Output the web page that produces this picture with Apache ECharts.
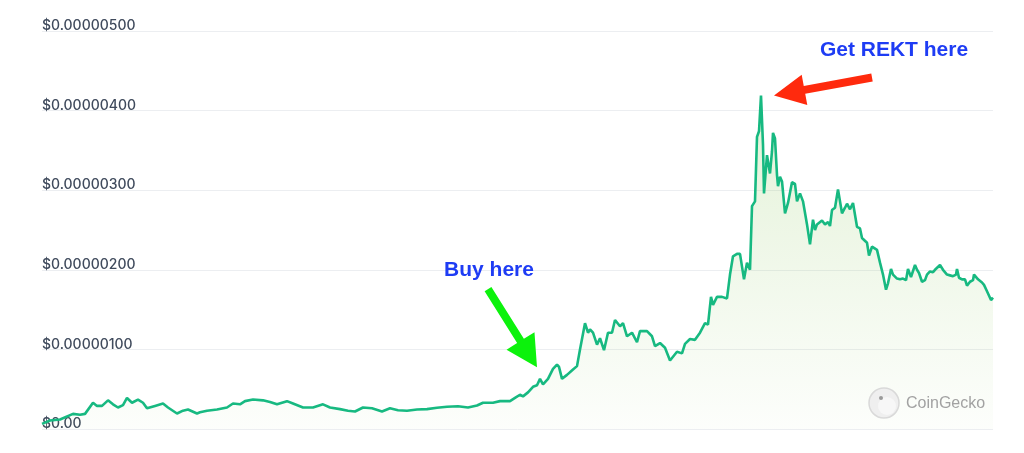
<!DOCTYPE html>
<html>
<head>
<meta charset="utf-8">
<script src="https://cdn.jsdelivr.net/npm/echarts@6/dist/echarts.min.js"></script>
<style>
  html, body { margin: 0; padding: 0; background: #ffffff; }
  #chart { width: 1024px; height: 453px; }
</style>
</head>
<body>
<div id="chart"></div>
<script>
// time index (days from start of chart)
const days = [0,8,18,31,38,43,51,55,60,66,71,76,81,85,90,96,101,105,113,121,126,135,141,146,155,158,165,175,185,191,198,203,211,221,228,235,245,251,261,271,281,288,298,306,313,321,330,340,348,356,365,375,385,395,405,416,426,435,441,451,458,468,473,478,481,486,491,495,498,501,506,511,515,517,520,525,531,535,538,543,546,548,551,555,558,562,566,570,573,578,581,585,590,595,598,605,610,613,618,623,628,635,640,643,648,653,658,663,666,669,671,675,680,685,688,691,695,698,702,705,708,710,713,715,717,719,721,722,725,726,728,730,731,733,735,736,738,740,743,746,750,753,755,758,761,765,768,771,773,775,780,783,786,788,790,793,796,800,803,805,808,811,813,815,818,820,822,825,827,830,832,835,836,838,840,841,844,846,849,851,853,855,858,861,864,866,869,873,875,877,880,883,885,888,891,893,895,898,901,905,908,911,914,915,917,920,923,925,928,931,932,936,940,942,945,947,949,951];
// price in units of 1e-8 USD
const priceE8 = [6.5,10.7,12,19,18,19,33,29,29,36,31,27,30,39,33,37,33,26,29,32,27,19.5,23,24.5,19.5,21,23,24.5,27,32,31,35,37,36,34,31,35,32,27,27,31,27,25,23,22,27,26,22,26,23.6,23,24.5,25,26.6,28,28.6,27,29.5,33,33,35,35,39,43,41,46,53,55,63,56,63,75.5,81,78,63,68,74.7,79,100,133,121,125,121,106,114,99,121,121,137,129,133,116.5,121,109,123,123,116.5,104,108,102,86,97,95,107,113,112,121,133,131,166,156,166,166,164,194,217,220,220,188,209,200,280,286,367,374,419,357,296,344,336,321,349,372,365,319,305,317,311,271,284,310,308,286,296,286,257,232,263,250,257,262,257,260,255,275,278,301,271,278,283,276,284,282,254,252,240,242,234,218,229,230,225,225,209,208,194,175,183,201,194,194,189,188,189,187,201,191,206,200,196,185,187,194,198,197,200,198,206,200,194,193,192,194,201,190,188,188,180,185,187,194,188,184,181,173,171,162,165];
const yTickLabels = ['$0.00','$0.00000100','$0.00000200','$0.00000300','$0.00000400','$0.00000500'];
const annotations = { buy: 'Buy here', sell: 'Get REKT here', brand: 'CoinGecko' };
const buyDay = 495;

const chart = echarts.init(document.getElementById('chart'), null, { renderer: 'canvas' });
const seriesData = days.map((d, i) => [d, priceE8[i]]);

chart.setOption({
  animation: false,
  backgroundColor: '#ffffff',
  grid: { left: 42, right: 31, top: 31, bottom: 24, containLabel: false },
  xAxis: { type: 'value', min: 0, max: 951, show: false },
  yAxis: {
    type: 'value', min: 0, max: 500, interval: 100,
    axisLine: { show: false }, axisTick: { show: false },
    splitLine: { lineStyle: { color: '#eceef1', width: 1 } },
    axisLabel: {
      inside: true, margin: 0, align: 'left', verticalAlign: 'bottom',
      lineHeight: 10,
      color: '#3f4a5c', fontSize: 14, fontWeight: 500, fontFamily: 'Inter',
      formatter: v => yTickLabels[Math.round(v / 100)]
    }
  },
  series: [{
    type: 'line', data: seriesData, showSymbol: false, smooth: false,
    lineStyle: { color: '#17b981', width: 2.6 },
    itemStyle: { color: '#17b981' },
    areaStyle: {
      color: new echarts.graphic.LinearGradient(0, 0, 0, 1, [
        { offset: 0, color: 'rgba(140,200,90,0.34)' },
        { offset: 1, color: 'rgba(140,200,90,0.03)' }
      ])
    },
    z: 3
  }]
});

function arrowPts(tail, tip, sw, hl, hw) {
  const dx = tip[0] - tail[0], dy = tip[1] - tail[1];
  const len = Math.hypot(dx, dy);
  const ux = dx / len, uy = dy / len, nx = -uy, ny = ux;
  const bx = tip[0] - ux * hl, by = tip[1] - uy * hl;
  return [
    [tail[0] + nx * sw / 2, tail[1] + ny * sw / 2],
    [bx + nx * sw / 2, by + ny * sw / 2],
    [bx + nx * hw / 2, by + ny * hw / 2],
    [tip[0], tip[1]],
    [bx - nx * hw / 2, by - ny * hw / 2],
    [bx - nx * sw / 2, by - ny * sw / 2],
    [tail[0] - nx * sw / 2, tail[1] - ny * sw / 2]
  ];
}

const peakIdx = priceE8.indexOf(Math.max(...priceE8));
const peakPx = chart.convertToPixel({ gridIndex: 0 }, [days[peakIdx], priceE8[peakIdx]]);
const buyIdx = days.indexOf(buyDay);
const buyPx = chart.convertToPixel({ gridIndex: 0 }, [days[buyIdx], priceE8[buyIdx]]);

const redTip = [peakPx[0] + 13, peakPx[1]];
const redTail = [redTip[0] + 98, redTip[1] - 18];
const greenTip = [buyPx[0], buyPx[1] - 18];
const greenTail = [greenTip[0] - 49, greenTip[1] - 78];

chart.setOption({
  graphic: [
    { type: 'polygon', shape: { points: arrowPts(greenTail, greenTip, 8, 31, 33) }, style: { fill: '#0cf20c' }, z: 10 },
    { type: 'polygon', shape: { points: arrowPts(redTail, redTip, 8, 31, 31) }, style: { fill: '#ff2a0d' }, z: 10 },
    { type: 'text', x: greenTail[0] + 1, y: greenTail[1] - 19, style: { text: annotations.buy, fill: '#1e3cf4', font: 'bold 21px "Liberation Sans", Arial, sans-serif', textAlign: 'center', textVerticalAlign: 'middle' }, z: 10 },
    { type: 'text', x: redTail[0] + 22, y: redTail[1] - 27, style: { text: annotations.sell, fill: '#1e3cf4', font: 'bold 21px "Liberation Sans", Arial, sans-serif', textAlign: 'center', textVerticalAlign: 'middle' }, z: 10 },
    { type: 'circle', shape: { cx: 884, cy: 403, r: 15 }, style: { fill: '#efefef', stroke: '#d9d9d9', lineWidth: 1.5 }, z: 5 },
    { type: 'circle', shape: { cx: 887, cy: 406, r: 9 }, style: { fill: '#f7f7f7' }, z: 5 },
    { type: 'circle', shape: { cx: 881, cy: 398, r: 2 }, style: { fill: '#9a9a9a' }, z: 6 },
    { type: 'text', x: 906, y: 404, style: { text: annotations.brand, fill: '#a2a2a2', font: '16px "Liberation Sans", Arial, sans-serif', textVerticalAlign: 'middle' }, z: 5 }
  ]
});
</script>
</body>
</html>
